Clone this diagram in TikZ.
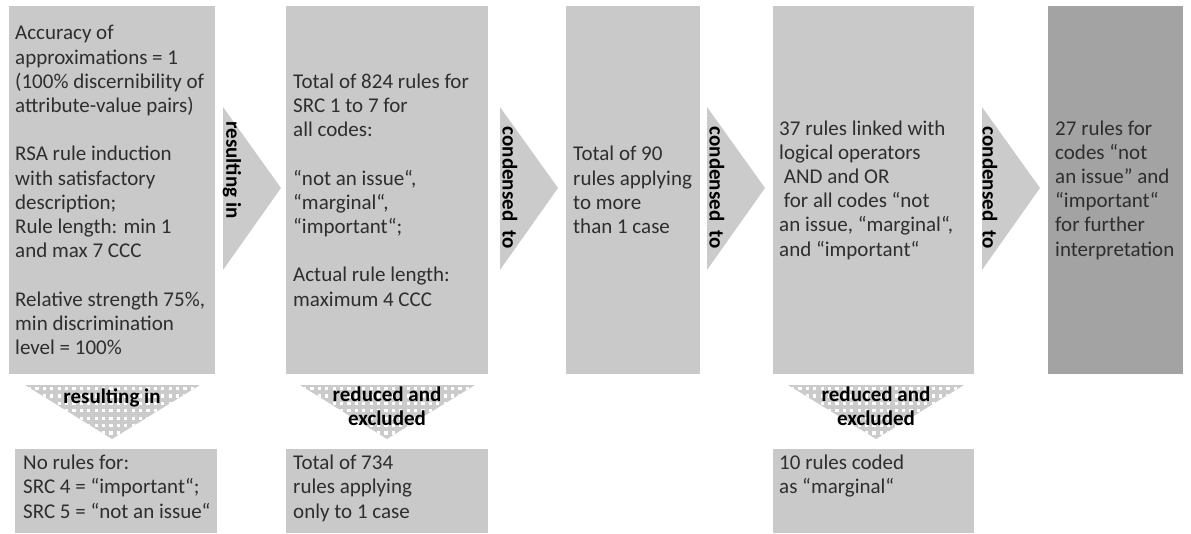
\documentclass[tikz,border=0pt]{standalone}
\usepackage{fontspec}
\setmainfont{Carlito}
\usetikzlibrary{calc}
\definecolor{boxgray}{HTML}{C9C9C9}
\definecolor{darkbox}{HTML}{A3A3A3}
\definecolor{arrowgray}{HTML}{CBCBCB}
\definecolor{txt}{HTML}{2E2E2E}
\begin{document}
\begin{tikzpicture}[x=1pt,y=-1pt,
  box/.style={fill=boxgray, draw=none, inner sep=0pt, outer sep=0pt, anchor=north west},
  bigbox/.style={box, minimum height=368pt},
  lowbox/.style={box, minimum height=84pt},
  boxtext/.style={text=txt, font=\fontsize{21}{24.2}\selectfont, align=left, inner sep=0pt},
  sidelabel/.style={font=\fontsize{21}{24}\selectfont\bfseries, text=black, rotate=-90, inner sep=0pt},
  downlabel/.style={font=\fontsize{21}{24}\selectfont\bfseries, text=black, align=center, inner sep=0pt},
  chevron/.style={fill=arrowgray, draw=none}
]
\useasboundingbox (0,0) rectangle (1191,533);

% top boxes
\node[bigbox, minimum width=206pt] (b1) at (9,6) {};
\node[bigbox, minimum width=202pt] (b2) at (286,6) {};
\node[bigbox, minimum width=134pt] (b3) at (566,6) {};
\node[bigbox, minimum width=201pt] (b4) at (773,6) {};
\node[bigbox, minimum width=135pt, fill=darkbox] (b5) at (1048,6) {};

% bottom boxes
\node[lowbox, minimum width=202pt] (c1) at (15,449) {};
\node[lowbox, minimum width=202pt] (c2) at (286,449) {};
\node[lowbox, minimum width=201pt] (c4) at (773,449) {};

% texts in top boxes
\node[boxtext, anchor=west] (t1) at ($(b1.west)+(6,0)$) {Accuracy of\\approximations = 1\\(100\% discernibility of\\attribute-value pairs)\\[24.2pt]RSA rule induction\\with satisfactory\\description;\\Rule length: min 1\\and max 7 CCC\\[24.2pt]Relative strength 75\%,\\min discrimination\\level = 100\%};
\node[boxtext, anchor=west] (t2) at ($(b2.west)+(7,0)$) {Total of 824 rules for\\SRC 1 to 7 for\\all codes:\\[24.2pt]“not an issue“,\\“marginal“,\\“important“;\\[24.2pt]Actual rule length:\\maximum 4 CCC};
\node[boxtext, anchor=west] (t3) at ($(b3.west)+(7,0)$) {Total of 90\\rules applying\\to more\\than 1 case};
\node[boxtext, anchor=west] (t4) at ($(b4.west)+(6,0)$) {37 rules linked with\\logical operators\\\ AND and OR\\\ for all codes “not\\an issue, “marginal“,\\and “important“};
\node[boxtext, anchor=west] (t5) at ($(b5.west)+(7,0)$) {27 rules for\\codes “not\\an issue” and\\“important“\\for further\\interpretation};

% texts in bottom boxes
\node[boxtext, anchor=north west] (u1) at ($(c1.north west)+(8,6)$) {No rules for:\\SRC 4 = “important“;\\SRC 5 = “not an issue“};
\node[boxtext, anchor=north west] (u2) at ($(c2.north west)+(7,6)$) {Total of 734\\rules applying\\only to 1 case};
\node[boxtext, anchor=north west] (u4) at ($(c4.north west)+(6,6)$) {10 rules coded\\as “marginal“};

% horizontal chevrons
\foreach \L/\lx/\ly/\lab/\nm in {223/232/170/resulting in/h1, 500/510/188/condensed\ \ to/h2, 707/717/188/condensed\ \ to/h3, 982/990/188/condensed\ \ to/h4}{
  \fill[chevron] (\L,107) -- (\L+58,188) -- (\L,270) -- cycle;
  \node[sidelabel] (\nm) at (\lx,\ly) {\lab};
}

% downward arrows with dotted fill
\foreach \l/\r/\t/\nm in {25/200/112/d1, 300/475/387/d2, 788/964/876/d4}{
  \fill[chevron] (\l,385) -- (\r,385) -- (\t,439) -- cycle;
  \begin{scope}
    \clip (\l,385) -- (\r,385) -- (\t,439) -- cycle;
    \foreach \i in {0,...,24}{
      \foreach \j in {0,...,7}{
        \fill[white] ({\l+3+7.4*\i},{387+7.4*\j}) rectangle ++(3.2,3.2);
      }
    }
  \end{scope}
}
\node[downlabel] (dl1) at (112,398) {resulting in};
\node[downlabel] (dl2) at (387,406) {reduced and\\excluded};
\node[downlabel] (dl4) at (876,406) {reduced and\\excluded};
\end{tikzpicture}
\end{document}
